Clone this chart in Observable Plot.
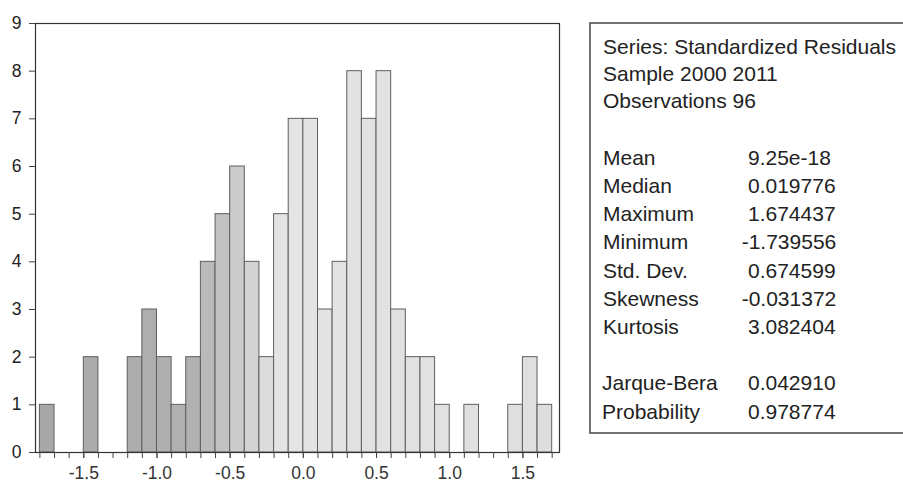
<!DOCTYPE html>
<html>
<head>
<meta charset="utf-8">
<script src="https://cdn.jsdelivr.net/npm/d3@7"></script>
<script src="https://cdn.jsdelivr.net/npm/@observablehq/plot@0.6"></script>
<style>
  html, body { margin: 0; padding: 0; background: #fff; }
  #wrap { position: relative; width: 903px; height: 483px; overflow: hidden; }
  #chart { position: absolute; left: 0; top: 0; }
  #stats { position: absolute; left: 0; top: 0; }
  #chart svg text { font-size: 17.5px !important; font-family: 'Liberation Sans', Arial, sans-serif !important; }
</style>
</head>
<body>
<div id="wrap"><div id="chart"></div><div id="stats"></div></div>
<script>
// Histogram bins (left edge of each 0.1-wide bin) and counts
const binStart = [-1.8,-1.7,-1.6,-1.5,-1.4,-1.3,-1.2,-1.1,-1.0,-0.9,-0.8,-0.7,-0.6,-0.5,-0.4,-0.3,-0.2,-0.1,
                  0.0,0.1,0.2,0.3,0.4,0.5,0.6,0.7,0.8,0.9,1.0,1.1,1.2,1.3,1.4,1.5,1.6];
const counts   = [1,0,0,2,0,0,2,3,2,1,2,4,5,6,4,2,5,7,
                  7,3,4,8,7,8,3,2,2,1,0,1,0,0,1,2,1];
const binWidth = 0.1;
const xMinorTicks = [-1.8,-1.7,-1.6,-1.5,-1.4,-1.3,-1.2,-1.1,-1.0,-0.9,-0.8,-0.7,-0.6,-0.5,-0.4,-0.3,-0.2,-0.1,
                     0.0,0.1,0.2,0.3,0.4,0.5,0.6,0.7,0.8,0.9,1.0,1.1,1.2,1.3,1.4,1.5,1.6,1.7];
const xLabelTicks = [-1.5,-1.0,-0.5,0.0,0.5,1.0,1.5];
const yTicks = [0,1,2,3,4,5,6,7,8,9];

// Statistics panel
const headerLines = ["Series: Standardized Residuals", "Sample 2000 2011", "Observations 96"];
const statLabels = ["Mean","Median","Maximum","Minimum","Std. Dev.","Skewness","Kurtosis"];
const statValues = ["9.25e-18","0.019776","1.674437","-1.739556","0.674599","-0.031372","3.082404"];
const testLabels = ["Jarque-Bera","Probability"];
const testValues = ["0.042910","0.978774"];

const bins = binStart.map((x0, i) => ({x0, x1: x0 + binWidth, count: counts[i]})).filter(d => d.count > 0);

const font = "'Liberation Sans', Arial, sans-serif";
const chart = Plot.plot({
  width: 575,
  height: 483,
  marginLeft: 35,
  marginRight: 16,
  marginTop: 23,
  marginBottom: 31,
  style: {fontFamily: font, fontSize: "17.5px", color: "#222", background: "transparent"},
  x: {domain: [-1.83, 1.75]},
  y: {domain: [0, 9]},
  color: {type: "linear", domain: [-1.8, -0.8, -0.2, 1.7], range: ["#a8a8a8", "#b1b1b1", "#e4e4e4", "#dedede"]},
  marks: [
    Plot.rectY(bins, {x1: "x0", x2: "x1", y: "count", fill: "x0", stroke: "#5f5f5f", strokeWidth: 1}),
    Plot.frame({stroke: "#333", strokeWidth: 1.2}),
    Plot.axisX(xMinorTicks, {tickSize: 6, text: null, stroke: "#444"}),
    Plot.axisX(xLabelTicks, {tickSize: 6, tickPadding: 8, tickFormat: d => d.toFixed(1), fill: "#333", stroke: "#444", label: null, fontSize: 17.5}),
    Plot.axisY(yTicks, {tickSize: 6, tickPadding: 8, tickFormat: d => String(d), fill: "#222", stroke: "#444", label: null, fontSize: 17.5})
  ]
});
document.getElementById("chart").appendChild(chart);

// Stats box as an SVG overlay
const svg = d3.select("#stats").append("svg").attr("width", 903).attr("height", 483)
  .style("font-family", font).style("font-size", "21px");
svg.append("rect").attr("x", 590).attr("y", 23).attr("width", 340).attr("height", 410)
  .attr("fill", "white").attr("stroke", "#444").attr("stroke-width", 1.5);
const hY = [54, 81, 108];
headerLines.forEach((t, i) => svg.append("text").attr("x", 603).attr("y", hY[i]).attr("fill", "#222").text(t));
const sY = [165, 193, 221, 249, 278, 306, 334];
const minusW = 6.3;
statLabels.forEach((t, i) => {
  svg.append("text").attr("x", 603).attr("y", sY[i]).attr("fill", "#222").text(t);
  const v = statValues[i];
  svg.append("text").attr("x", v.startsWith("-") ? 748 - minusW : 748).attr("y", sY[i]).attr("fill", "#222").text(v);
});
const tY = [390, 419];
testLabels.forEach((t, i) => {
  svg.append("text").attr("x", 602).attr("y", tY[i]).attr("fill", "#222").text(t);
  svg.append("text").attr("x", 748).attr("y", tY[i]).attr("fill", "#222").text(testValues[i]);
});
</script>
</body>
</html>
